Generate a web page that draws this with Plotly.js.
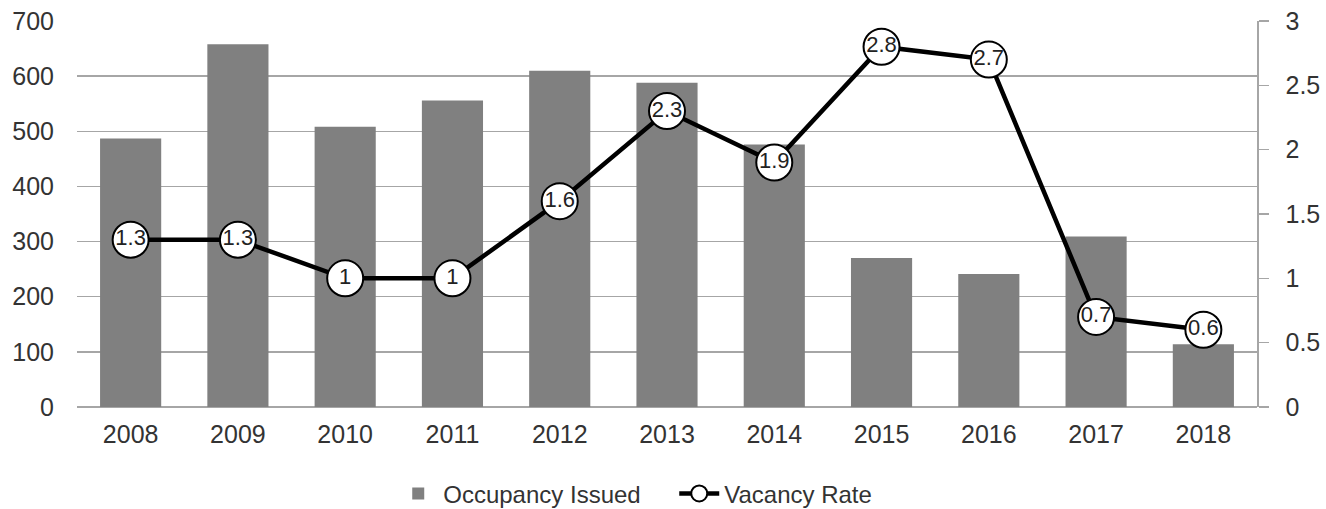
<!DOCTYPE html>
<html>
<head>
<meta charset="utf-8">
<script src="https://cdn.plot.ly/plotly-3.0.1.min.js"></script>
<style>html,body{margin:0;padding:0;background:#fff;}#chart{width:1326px;height:509px;}</style>
</head>
<body>
<div id="chart"></div>
<script>
const years = ["2008","2009","2010","2011","2012","2013","2014","2015","2016","2017","2018"];
const occupancyIssued = [487, 658, 508, 556, 610, 588, 476, 270, 241, 309, 114];
const vacancyRate = [1.3, 1.3, 1, 1, 1.6, 2.3, 1.9, 2.8, 2.7, 0.7, 0.6];
const vacancyLabels = vacancyRate.map(v => String(v));

const fontFam = "Liberation Sans, Arial, sans-serif";
const txtColor = "#333333";

const traces = [
  {
    type: "bar",
    name: "Occupancy Issued",
    x: years,
    y: occupancyIssued,
    marker: {color: "#808080"},
    yaxis: "y"
  },
  {
    type: "scatter",
    mode: "lines+markers+text",
    name: "Vacancy Rate",
    x: years,
    y: vacancyRate,
    text: vacancyLabels,
    textposition: "middle center",
    textfont: {family: fontFam, size: 22, color: "#222"},
    line: {color: "#000000", width: 4.5},
    marker: {symbol: "circle", size: 36, color: "#ffffff", line: {color: "#000000", width: 2}},
    yaxis: "y2",
    cliponaxis: false
  }
];

const layout = {
  width: 1326,
  height: 509,
  margin: {l: 77, r: 69, t: 21, b: 102, autoexpand: false},
  paper_bgcolor: "#ffffff",
  plot_bgcolor: "#ffffff",
  font: {family: fontFam, size: 24, color: txtColor},
  bargap: 0.43,
  showlegend: true,
  legend: {
    orientation: "h",
    x: 0.268, xanchor: "left",
    y: -0.225, yanchor: "middle",
    font: {family: fontFam, size: 24, color: txtColor},
    itemwidth: 40,
    entrywidth: 226,
    entrywidthmode: "pixels",
    traceorder: "normal"
  },
  xaxis: {
    type: "category",
    range: [-0.5, years.length - 0.5],
    tickfont: {family: fontFam, size: 25, color: txtColor},
    showgrid: false,
    showline: false,
    ticks: "",
    ticklabelstandoff: 10,
    fixedrange: true
  },
  yaxis: {
    range: [0, 700],
    dtick: 100,
    tick0: 0,
    showgrid: true,
    gridcolor: "#a6a6a6",
    gridwidth: 1.5,
    zeroline: true,
    zerolinecolor: "#a6a6a6",
    zerolinewidth: 1.5,
    showline: false,
    ticks: "",
    tickfont: {family: fontFam, size: 25, color: txtColor},
    ticklabelstandoff: 22,
    fixedrange: true
  },
  yaxis2: {
    overlaying: "y",
    side: "right",
    range: [0, 3],
    dtick: 0.5,
    tick0: 0,
    showgrid: false,
    zeroline: false,
    showline: true,
    linecolor: "#a6a6a6",
    linewidth: 1.5,
    ticks: "outside",
    ticklen: 10,
    tickcolor: "#a6a6a6",
    tickwidth: 1.5,
    tickfont: {family: fontFam, size: 25, color: txtColor},
    ticklabelstandoff: 12,
    fixedrange: true
  }
};

Plotly.newPlot("chart", traces, layout, {displayModeBar: false, staticPlot: true});
</script>
</body>
</html>
